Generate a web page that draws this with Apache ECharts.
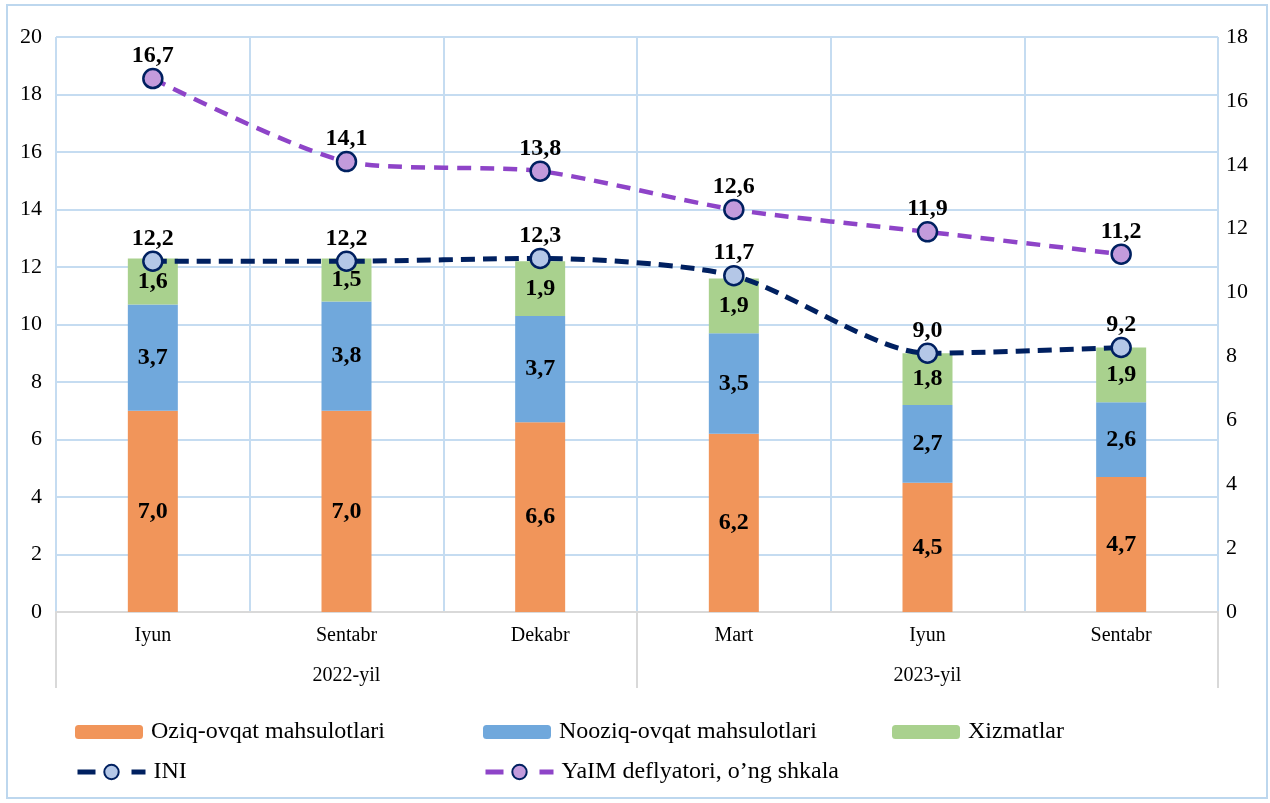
<!DOCTYPE html>
<html>
	<head>
		<meta charset="utf-8" />
		<title>INI</title>
		<script src="https://cdn.jsdelivr.net/npm/echarts@6/dist/echarts.min.js"></script>
	</head>
	<body style="margin:0;">
		<div id="main" style="width:1270px;height:803px;"></div>
	</body>
	<script type="text/javascript">

	// oylar va yillar
	var months = ['Iyun', 'Sentabr', 'Dekabr', 'Mart', 'Iyun', 'Sentabr'];
	var years = ['2022-yil', '2023-yil'];

	// ustunlar (chap shkala)
	var oziq = [7.0, 7.0, 6.6, 6.2, 4.5, 4.7];
	var nooziq = [3.7, 3.8, 3.7, 3.5, 2.7, 2.6];
	var xizmat = [1.6, 1.5, 1.9, 1.9, 1.8, 1.9];

	// chiziqlar
	var ini = [12.2, 12.2, 12.3, 11.7, 9.0, 9.2];
	var yaim = [16.7, 14.1, 13.8, 12.6, 11.9, 11.2];

	var serif = "'Liberation Serif', 'Times New Roman', serif";
	var gridColor = '#c5dcf1';

	function fmt(p) {
		return p.value.toFixed(1).replace('.', ',');
	}

	var barLabel = {
		show: true,
		position: 'inside',
		formatter: fmt,
		fontFamily: serif,
		fontSize: 24,
		fontWeight: 'bold',
		color: '#000'
	};

	var lineLabel = {
		show: true,
		position: 'top',
		distance: 0,
		formatter: fmt,
		fontFamily: serif,
		fontSize: 24,
		fontWeight: 'bold',
		color: '#000'
	};

	function legendBox(name, left, top, line) {
		var lg = {
			data: [name],
			left: left,
			top: top,
			itemWidth: 68,
			itemHeight: 14,
			textStyle: {
				fontFamily: serif,
				fontSize: 24,
				color: '#000',
				padding: [0, 0, 0, 3]
			}
		};
		if (line) {
			lg.itemHeight = 18;
			lg.lineStyle = {width: 5, type: [18, 36]};
		}
		return lg;
	}

	var myChart = echarts.init(document.getElementById('main'));

	var option = {
		animation: false,
		backgroundColor: '#fff',
		graphic: [{
			type: 'rect',
			shape: {x: 7, y: 5, width: 1260, height: 793},
			style: {fill: 'none', stroke: '#bdd7ee', lineWidth: 2},
			z: -1
		}],
		legend: [
			legendBox('Oziq-ovqat mahsulotlari', 70, 715),
			legendBox('Nooziq-ovqat mahsulotlari', 478, 715),
			legendBox('Xizmatlar', 887, 715),
			legendBox('INI', 70, 755, true),
			legendBox('YaIM deflyatori, o\u2019ng shkala', 478, 755, true)
		],
		grid: {
			left: 56,
			right: 52,
			top: 37,
			bottom: 191
		},
		xAxis: [
			{
				type: 'category',
				data: months,
				axisLine: {lineStyle: {color: '#d9d9d9', width: 2}},
				axisTick: {show: false},
				splitLine: {show: true, interval: 0, lineStyle: {color: gridColor, width: 2}},
				axisLabel: {
					margin: 14,
					fontFamily: serif,
					fontSize: 20,
					color: '#000'
				}
			},
			{
				type: 'category',
				data: years,
				position: 'bottom',
				axisLine: {show: false},
				axisTick: {show: true, length: 76, lineStyle: {color: '#d9d9d9', width: 2}},
				axisLabel: {
					margin: 54,
					fontFamily: serif,
					fontSize: 20,
					color: '#000'
				}
			}
		],
		yAxis: [
			{
				type: 'value',
				min: 0,
				max: 20,
				interval: 2,
				axisLine: {show: false},
				axisTick: {show: false},
				splitLine: {lineStyle: {color: gridColor, width: 2}},
				axisLabel: {
					margin: 14,
					fontFamily: serif,
					fontSize: 22,
					color: '#000'
				}
			},
			{
				type: 'value',
				min: 0,
				max: 18,
				interval: 2,
				axisLine: {show: false},
				axisTick: {show: false},
				splitLine: {show: false},
				axisLabel: {
					margin: 8,
					fontFamily: serif,
					fontSize: 22,
					color: '#000'
				}
			}
		],
		series: [
			{
				name: 'Oziq-ovqat mahsulotlari',
				type: 'bar',
				stack: 'ini',
				barWidth: 50,
				itemStyle: {color: '#f1955a'},
				label: barLabel,
				data: oziq
			},
			{
				name: 'Nooziq-ovqat mahsulotlari',
				type: 'bar',
				stack: 'ini',
				itemStyle: {color: '#70a8dc'},
				label: barLabel,
				data: nooziq
			},
			{
				name: 'Xizmatlar',
				type: 'bar',
				stack: 'ini',
				itemStyle: {color: '#a9d18e'},
				label: barLabel,
				data: xizmat
			},
			{
				name: 'INI',
				type: 'line',
				smooth: 0.25,
				symbol: 'circle',
				symbolSize: 19,
				lineStyle: {color: '#002060', width: 5, type: [14, 8]},
				itemStyle: {color: '#b4c7e7', borderColor: '#002060', borderWidth: 2.5},
				label: lineLabel,
				z: 5,
				data: ini
			},
			{
				name: 'YaIM deflyatori, o\u2019ng shkala',
				type: 'line',
				yAxisIndex: 1,
				smooth: 0.25,
				symbol: 'circle',
				symbolSize: 19,
				lineStyle: {color: '#8e44c8', width: 4.5, type: [14, 9]},
				itemStyle: {color: '#c39bdc', borderColor: '#002060', borderWidth: 2.5},
				label: lineLabel,
				z: 5,
				data: yaim
			}
		]
	};

	myChart.setOption(option);

	</script>
</html>
